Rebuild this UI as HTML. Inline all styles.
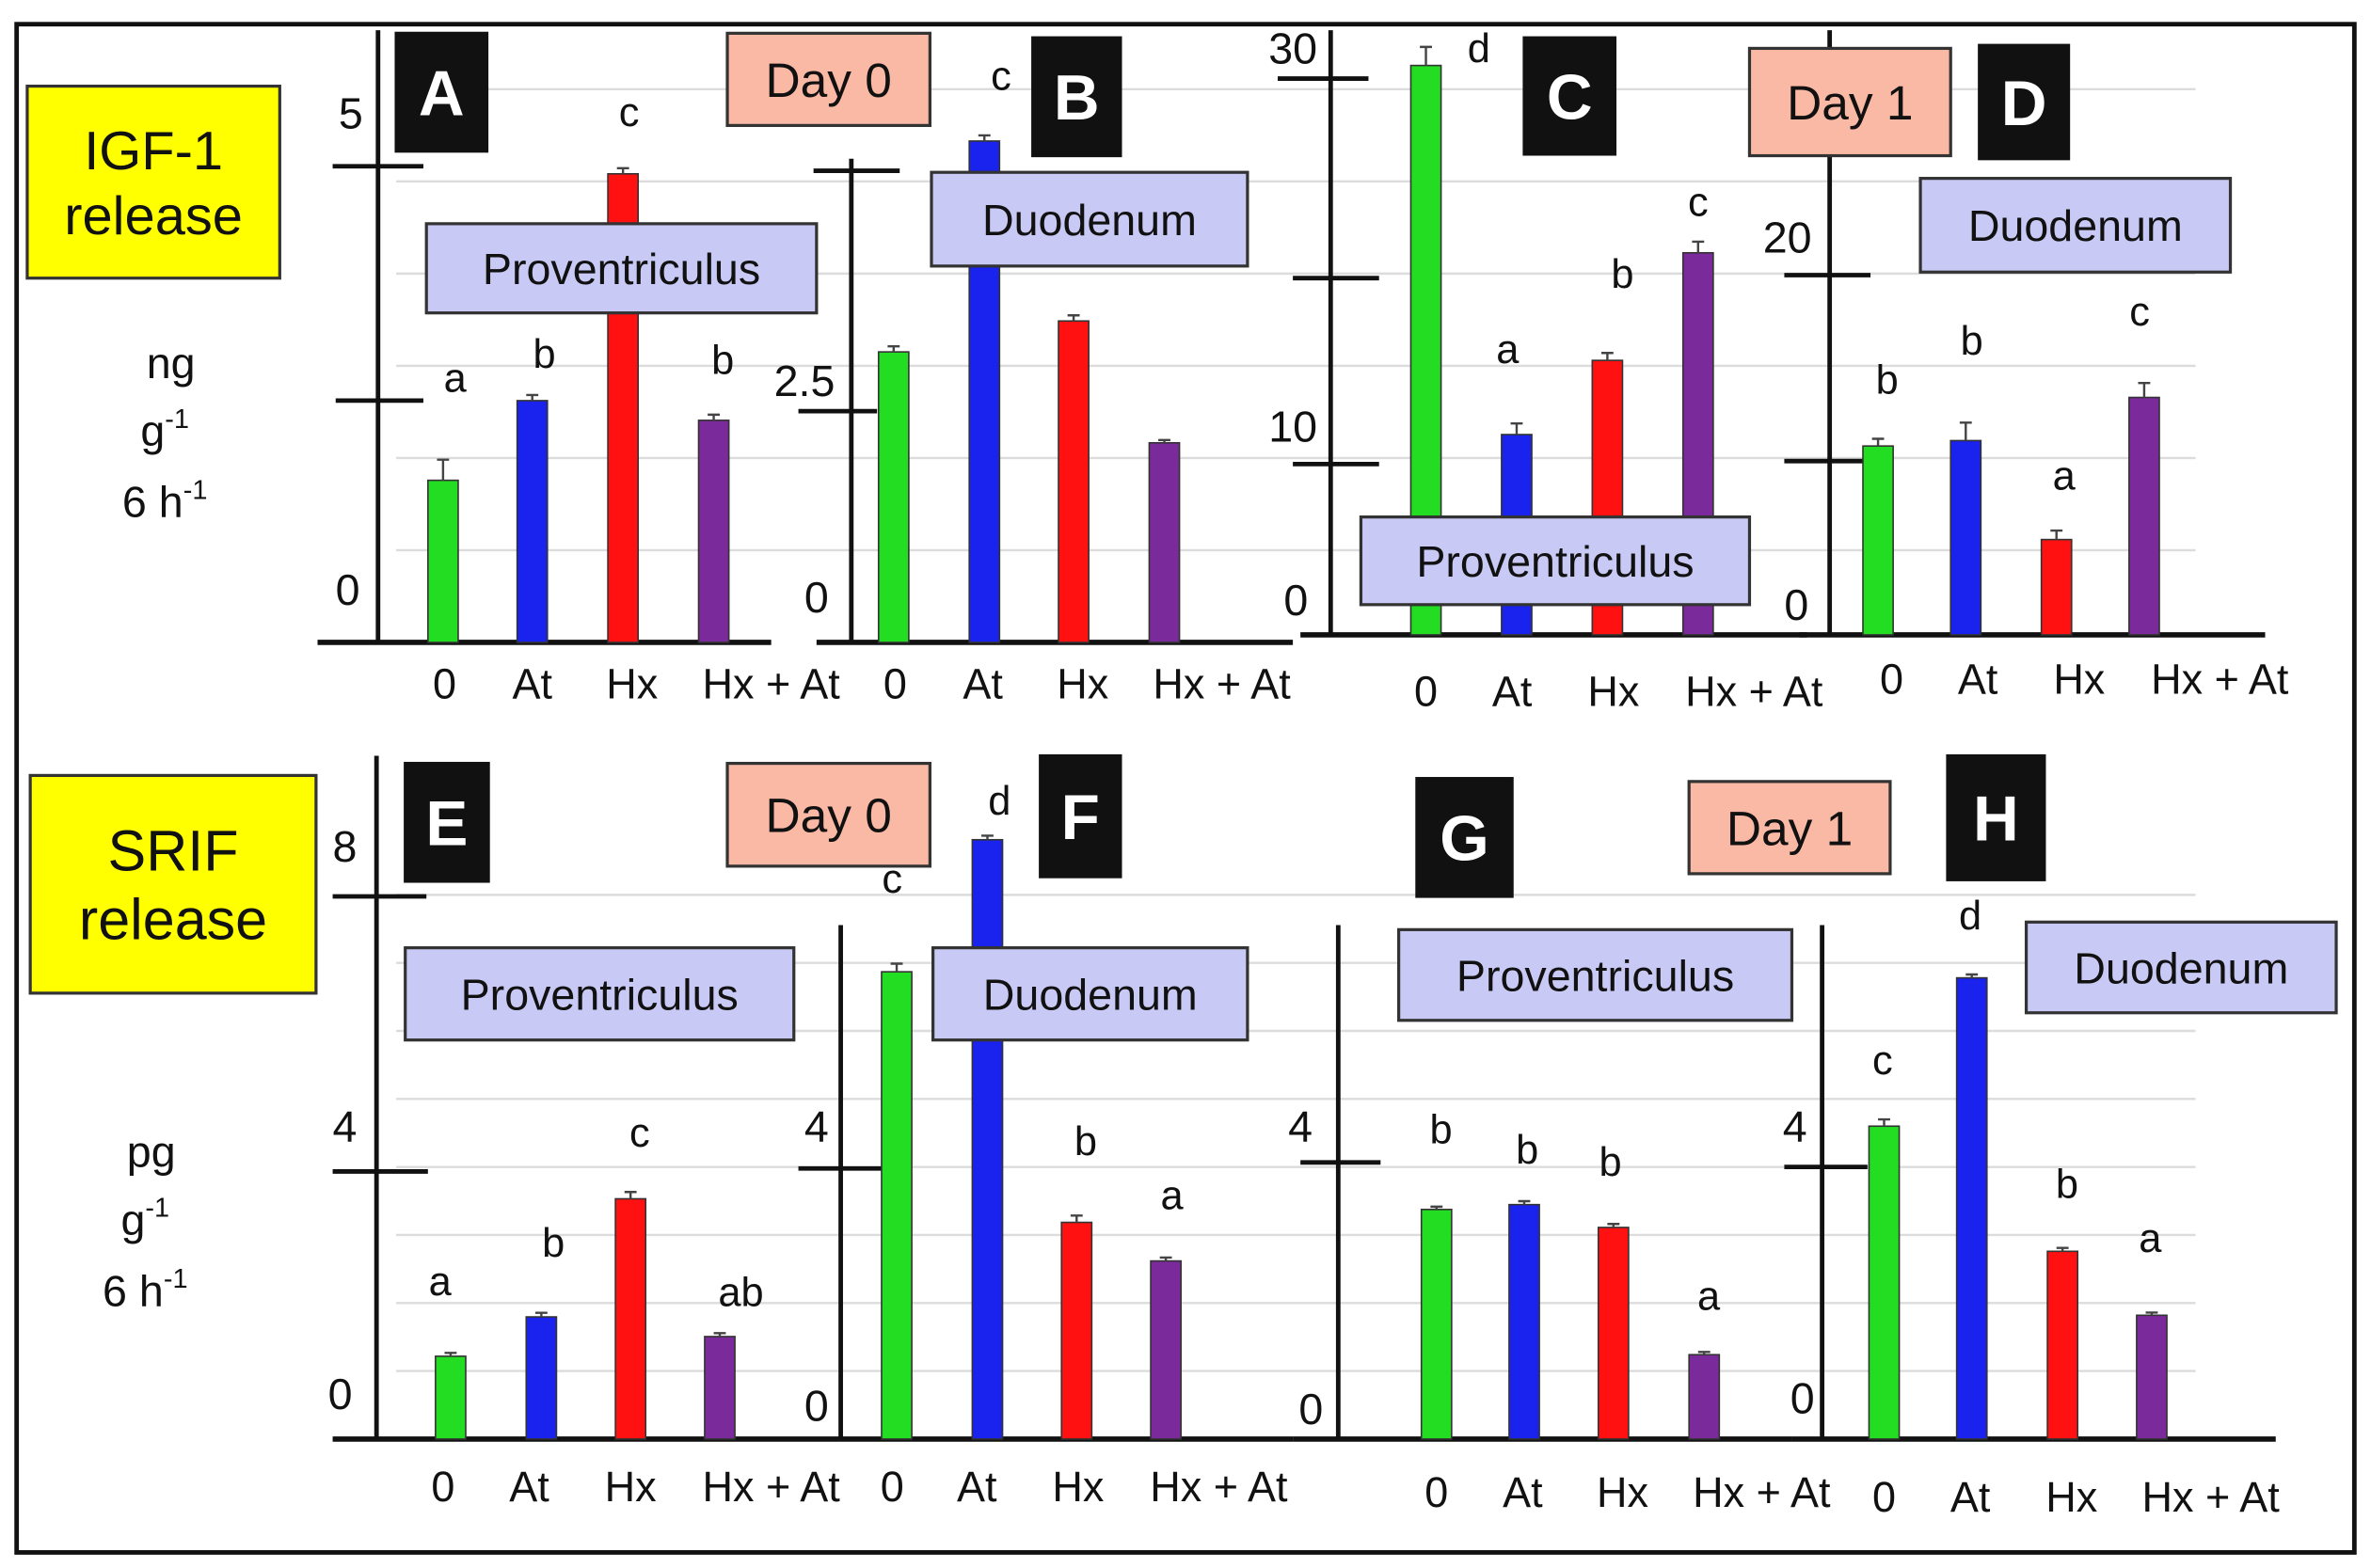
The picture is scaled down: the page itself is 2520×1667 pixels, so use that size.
<!DOCTYPE html>
<html><head><meta charset="utf-8"><style>
html,body{margin:0;padding:0;background:#fff}
svg{display:block}
text{font-family:"Liberation Sans",sans-serif;fill:#111}
</style></head><body>
<svg id="fig" width="2520" height="1667" viewBox="0 0 1568 1037.3" preserveAspectRatio="none" xmlns="http://www.w3.org/2000/svg">
<rect x="11" y="16" width="1546" height="1011" fill="#fff" stroke="#111" stroke-width="3"/>
<g id="grid"></g>
<g id="panels"></g>
<g id="labels"></g>
</svg>
<script>
const categories = ["0","At","Hx","Hx + At"];
const colors = ["#22dd22","#1a22ee","#ff1111","#7a2a9a"];
const valuesA = [1.73, 2.58, 5.0, 2.37];
const errorsA = [0.22, 0.06, 0.06, 0.06];
const lettersA = ["a","b","c","b"];
const valuesB = [3.1, 5.35, 3.43, 2.13];
const errorsB = [0.06, 0.06, 0.06, 0.03];
const lettersB = ["","c","",""];
const valuesC = [30.7, 10.8, 14.8, 20.6];
const errorsC = [1.0, 0.6, 0.4, 0.6];
const lettersC = ["d","a","b","c"];
const valuesD = [10.5, 10.8, 5.3, 13.2];
const errorsD = [0.4, 1.0, 0.5, 0.8];
const lettersD = ["b","b","a","c"];
const valuesE = [1.22, 1.8, 3.54, 1.51];
const errorsE = [0.05, 0.06, 0.1, 0.05];
const lettersE = ["a","b","c","ab"];
const valuesF = [6.9, 8.85, 3.2, 2.63];
const errorsF = [0.12, 0.06, 0.1, 0.05];
const lettersF = ["c","d","b","a"];
const valuesG = [3.32, 3.39, 3.06, 1.22];
const errorsG = [0.04, 0.05, 0.05, 0.04];
const lettersG = ["b","b","b","a"];
const valuesH = [4.6, 6.78, 2.76, 1.82];
const errorsH = [0.1, 0.05, 0.05, 0.04];
const lettersH = ["c","d","b","a"];

const NS="http://www.w3.org/2000/svg";
function mk(tag, attrs, parent){const e=document.createElementNS(NS,tag);for(const k in attrs)e.setAttribute(k,attrs[k]);parent.appendChild(e);return e;}
function txt(s,x,y,size,parent,anchor){const t=mk("text",{x:x,y:y,"font-size":size,"text-anchor":anchor||"middle"},parent);t.textContent=s;return t;}

const grid=document.getElementById("grid");
for(let k=1;k<=6;k++){const l=mk("line",{x1:262,x2:1452,y1:425-61*k,y2:425-61*k,stroke:"#dcdcdc","stroke-width":1.5},grid);

}
for(let k=1;k<=8;k++){const l=mk("line",{x1:262,x2:1452,y1:952-45*k,y2:952-45*k,stroke:"#dcdcdc","stroke-width":1.5},grid);

}

const P=document.getElementById("panels");
// panel definitions (layout only)
const panels=[
 {id:"A",vals:valuesA,errs:errorsA,lets:lettersA,ax:250,axTop:20,base:425,bx0:210,bx1:510,ppu:62,xs:[293,352,412,472],lx:[294,352,418,510],ly:462,
  ticks:[[110,220,280],[265,222,280]],tl:[["5",232,85],["0",230,400]],letOff:[[8,-45],[8,-18],[4,-28],[6,-27]]},
 {id:"B",vals:valuesB,errs:errorsB,lets:lettersB,ax:563,axTop:105,base:425,bx0:540,bx1:855,ppu:62,xs:[591,651,710,770],lx:[592,650,716,808],ly:462,
  ticks:[[113,538,595],[272,528,580]],tl:[["2.5",532,262],["0",540,405]],letOff:[[0,0],[11,-30],[0,0],[0,0]]},
 {id:"C",vals:valuesC,errs:errorsC,lets:lettersC,ax:880,axTop:20,base:420,bx0:860,bx1:1195,ppu:12.27,xs:[943,1003,1063,1123],lx:[943,1000,1067,1160],ly:467,
  ticks:[[52,845,905],[184,855,912],[307,855,912]],tl:[["30",855,42],["10",855,292],["0",857,407]],letOff:[[35,10],[-6,-40],[10,-43],[0,-17]]},
 {id:"D",vals:valuesD,errs:errorsD,lets:lettersD,ax:1210,axTop:20,base:420,bx0:1190,bx1:1498,ppu:11.9,xs:[1242,1300,1360,1418],lx:[1251,1308,1375,1468],ly:459,
  ticks:[[182,1180,1237],[305,1180,1235]],tl:[["20",1182,167],["0",1188,410]],letOff:[[6,-30],[4,-45],[5,-27],[-3,-38]]},
 {id:"E",vals:valuesE,errs:errorsE,lets:lettersE,ax:249,axTop:500,base:952,bx0:220,bx1:555,ppu:44.9,xs:[298,358,417,476],lx:[293,350,417,510],ly:993,
  ticks:[[593,220,282],[775,220,283]],tl:[["8",228,570],["4",228,755],["0",225,932]],letOff:[[-7,-38],[8,-37],[6,-30],[14,-18]]},
 {id:"F",vals:valuesF,errs:errorsF,lets:lettersF,ax:556,axTop:612,base:952,bx0:555,bx1:855,ppu:44.8,xs:[593,653,712,771],lx:[590,646,713,806],ly:993,
  ticks:[[773,528,585]],tl:[["4",540,755],["0",540,940]],letOff:[[-3,-47],[8,-14],[6,-40],[4,-32]]},
 {id:"G",vals:valuesG,errs:errorsG,lets:lettersG,ax:885,axTop:612,base:952,bx0:855,bx1:1185,ppu:45.75,xs:[950,1008,1067,1127],lx:[950,1007,1073,1165],ly:997,
  ticks:[[769,860,913]],tl:[["4",860,755],["0",867,942]],letOff:[[3,-42],[2,-25],[-2,-32],[3,-28]]},
 {id:"H",vals:valuesH,errs:errorsH,lets:lettersH,ax:1205,axTop:612,base:952,bx0:1185,bx1:1505,ppu:45,xs:[1246,1304,1364,1423],lx:[1246,1303,1370,1462],ly:1000,
  ticks:[[772,1180,1235]],tl:[["4",1187,755],["0",1192,935]],letOff:[[-1,-30],[-1,-30],[3,-33],[-1,-40]]}
];
panels.forEach(p=>{
  const g=mk("g",{},P);
  
  
  const y=v=>p.base-v*p.ppu;
  const ya=mk("line",{x1:p.ax,x2:p.ax,y1:p.axTop,y2:p.base,stroke:"#111","stroke-width":3},g);
  
  
  const xa=mk("line",{x1:p.bx0,x2:p.bx1,y1:p.base,y2:p.base,stroke:"#111","stroke-width":3.5},g);
  
  
  p.ticks.forEach(t=>{const l=mk("line",{x1:t[1],x2:t[2],y1:t[0],y2:t[0],stroke:"#111","stroke-width":3},g);
    
    });
  p.tl.forEach(t=>{const e=txt(t[0],t[1],t[2],29,g);
    
    });
  p.vals.forEach((v,i)=>{
    const top=y(v);
    const b=mk("rect",{x:p.xs[i]-10,y:top,width:20,height:p.base-top,fill:colors[i],stroke:"#333","stroke-width":1},g);
    
    
    const et=y(v+p.errs[i]);
    const eb=mk("path",{d:`M${p.xs[i]},${top} V${et} M${p.xs[i]-4},${et} H${p.xs[i]+4}`,stroke:"#444","stroke-width":1.5,fill:"none"},g);
    
    
    if(p.lets[i]){const l=txt(p.lets[i],p.xs[i]+p.letOff[i][0],et+p.letOff[i][1],27,g);
      
      }
    const xl=txt(categories[i],p.lx[i],p.ly,28,g);
    
    
  });
});

const L=document.getElementById("labels");
function box(name,x,y,w,h,fill,label,size,tc,bold){
  const g=mk("g",{},L);
  
  
  mk("rect",{x:x,y:y,width:w,height:h,fill:fill,stroke:fill=="#111"?"#111":"#333","stroke-width":2},g);
  const lines=label.split("|");
  lines.forEach((s,i)=>{const t=txt(s,x+w/2,y+h/2+size*0.36+(i-(lines.length-1)/2)*size*1.2,size,g);
    if(tc)t.style.fill=tc; if(bold)t.setAttribute("font-weight","bold");});
}
box("igf1-release-label",18,57,167,127,"#ffff00","IGF-1|release",36);
box("srif-release-label",20,513,189,144,"#ffff00","SRIF|release",38);
box("day0-top",481,22,134,61,"#f9b9a5","Day 0",32);
box("day1-top",1157,32,133,71,"#f9b9a5","Day 1",32);
box("day0-bottom",481,505,134,68,"#f9b9a5","Day 0",32);
box("day1-bottom",1117,517,133,61,"#f9b9a5","Day 1",32);
box("letter-a",262,22,60,78,"#111","A",42,"#fff",true);
box("letter-b",683,25,58,78,"#111","B",42,"#fff",true);
box("letter-c",1008,25,60,77,"#111","C",42,"#fff",true);
box("letter-d",1309,30,59,75,"#111","D",42,"#fff",true);
box("letter-e",268,505,55,78,"#111","E",42,"#fff",true);
box("letter-f",688,500,53,80,"#111","F",42,"#fff",true);
box("letter-g",937,515,63,78,"#111","G",42,"#fff",true);
box("letter-h",1288,500,64,82,"#111","H",42,"#fff",true);
const lav="#c9c9f5";
box("label-proventriculus-a",282,148,258,59,lav,"Proventriculus",29);
box("label-duodenum-b",616,114,209,62,lav,"Duodenum",29);
box("label-proventriculus-c",900,342,257,58,lav,"Proventriculus",29);
box("label-duodenum-d",1270,118,205,62,lav,"Duodenum",29);
box("label-proventriculus-e",268,627,257,61,lav,"Proventriculus",29);
box("label-duodenum-f",617,627,208,61,lav,"Duodenum",29);
box("label-proventriculus-g",925,615,260,60,lav,"Proventriculus",29);
box("label-duodenum-h",1340,610,205,60,lav,"Duodenum",29);

function unit(name,x,y0,first){
  const g=mk("g",{},L);
  
  
  txt(first,x,y0,29,g);
  const t2=txt("g",x-4,y0+45,29,g); const s2=mk("tspan",{dy:-12,"font-size":18},t2); s2.textContent="-1";
  const t3=txt("6 h",x-4,y0+92,29,g); const s3=mk("tspan",{dy:-12,"font-size":18},t3); s3.textContent="-1";
}
unit("y-axis-title-top",113,250,"ng");
unit("y-axis-title-bottom",100,772,"pg");
</script>
</body></html>
